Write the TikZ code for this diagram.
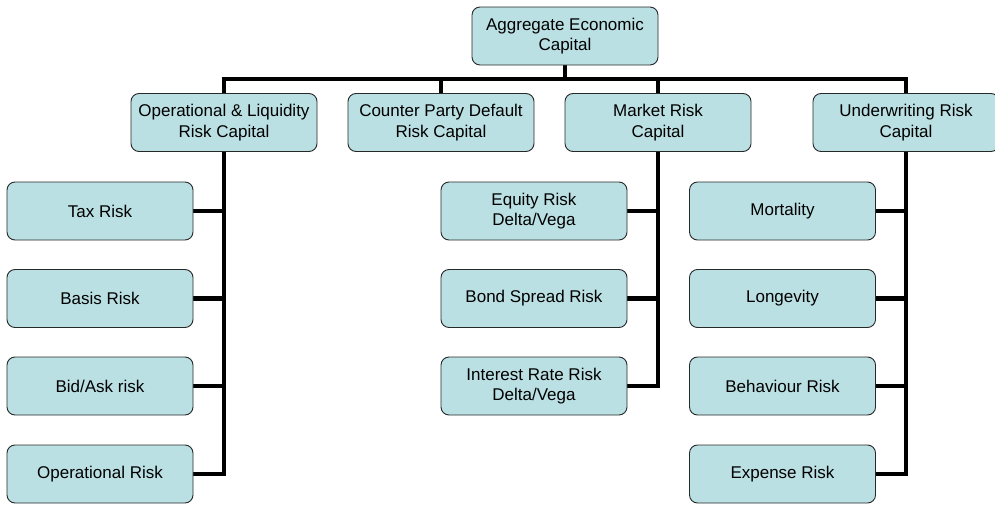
\documentclass[tikz,border=0pt]{standalone}
\usepackage{fontspec}
\setmainfont{Liberation Sans}
\usetikzlibrary{backgrounds}
\definecolor{boxfill}{RGB}{186,224,227}
\definecolor{boxline}{RGB}{40,40,40}
\tikzset{
  rbox/.style={draw=boxline, line width=0.9pt, fill=boxfill, rounded corners=8pt,
    minimum width=186pt, minimum height=58pt, inner sep=2pt, align=center,
    font=\fontsize{17pt}{20.5pt}\selectfont},
  conn/.style={line width=4.6pt, black, line join=miter}
}
\begin{document}
\begin{tikzpicture}[x=1pt,y=-1pt]
\useasboundingbox (0,0) rectangle (995,506);
% top
\node[rbox] (top) at (565,36) {Aggregate Economic\\Capital};
% level 2
\node[rbox] (op) at (224,122.5) {Operational \& Liquidity\\Risk Capital};
\node[rbox] (cp) at (441,122.5) {Counter Party Default\\Risk Capital};
\node[rbox] (mk) at (658,122.5) {Market Risk\\Capital};
\node[rbox] (uw) at (906,122.5) {Underwriting Risk\\Capital};
% left children
\node[rbox] (tax) at (100,211) {Tax Risk};
\node[rbox] (basis) at (100,298.5) {Basis Risk};
\node[rbox] (bid) at (100,386) {Bid/Ask risk};
\node[rbox] (opr) at (100,474) {Operational Risk};
% market children
\node[rbox] (eq) at (534,211) {Equity Risk\\Delta/Vega};
\node[rbox] (bond) at (534,298.5) {Bond Spread Risk};
\node[rbox] (ir) at (534,386) {Interest Rate Risk\\Delta/Vega};
% underwriting children
\node[rbox] (mort) at (782.5,211) {Mortality};
\node[rbox] (long) at (782.5,298.5) {Longevity};
\node[rbox] (beh) at (782.5,386) {Behaviour Risk};
\node[rbox] (exp) at (782.5,474) {Expense Risk};
\coordinate (barL) at (224,79);
\coordinate (barR) at (906,79);
\begin{scope}[on background layer]
\draw[conn] (top.south) -- (top.south |- barL);
\draw[conn] ([xshift=-2.3pt]barL) -- ([xshift=2.3pt]barR);
\draw[conn] (op.north |- barL) -- (op.north);
\draw[conn] (cp.north |- barL) -- (cp.north);
\draw[conn] (mk.north |- barL) -- (mk.north);
\draw[conn] (uw.north |- barL) -- (uw.north);
\draw[conn] (op.south) |- (opr.east);
\draw[conn] (tax.east) -- (tax.east -| op.south);
\draw[conn] (basis.east) -- (basis.east -| op.south);
\draw[conn] (bid.east) -- (bid.east -| op.south);
\draw[conn] (mk.south) |- (ir.east);
\draw[conn] (eq.east) -- (eq.east -| mk.south);
\draw[conn] (bond.east) -- (bond.east -| mk.south);
\draw[conn] (uw.south) |- (exp.east);
\draw[conn] (mort.east) -- (mort.east -| uw.south);
\draw[conn] (long.east) -- (long.east -| uw.south);
\draw[conn] (beh.east) -- (beh.east -| uw.south);
\end{scope}
\end{tikzpicture}
\end{document}
